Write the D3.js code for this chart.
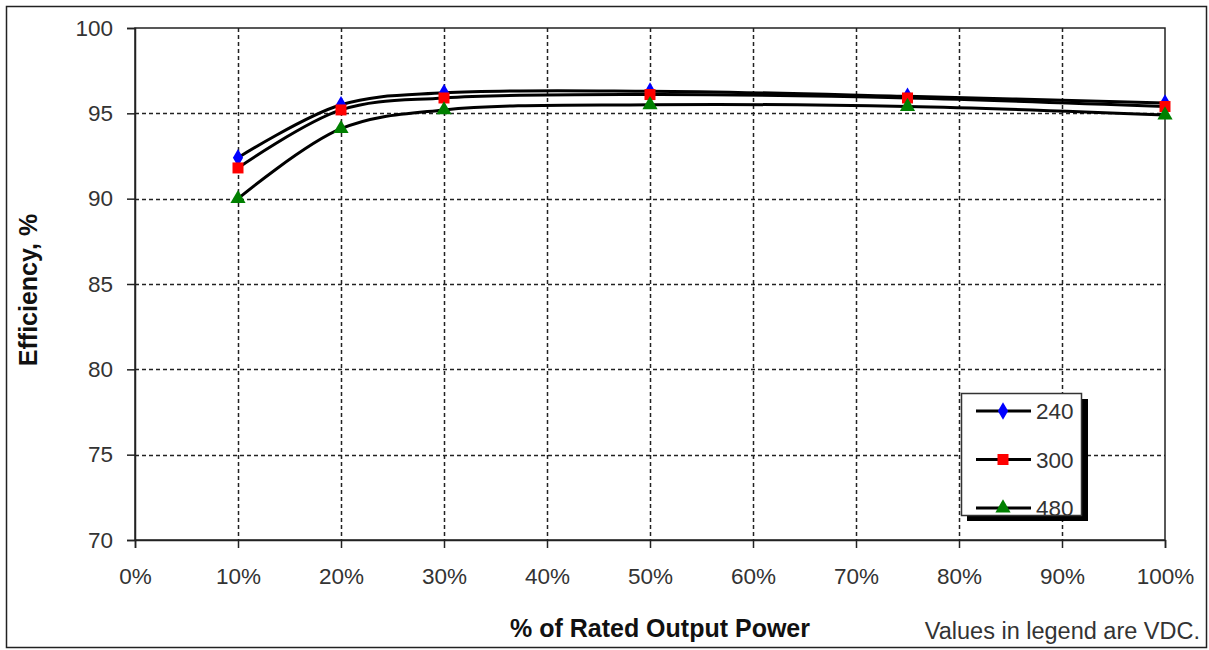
<!DOCTYPE html>
<html>
<head>
<meta charset="utf-8">
<script src="https://cdn.jsdelivr.net/npm/d3@7"></script>
<style>
  html, body { margin: 0; padding: 0; background: #fff; }
  svg { display: block; }
  text { font-family: "Liberation Sans", Arial, sans-serif; }
</style>
</head>
<body>
<svg id="chart" width="1209" height="650"></svg>
<script>
// ---- data ----
const loadPct = [10, 20, 30, 50, 75, 100];
const seriesNames = ["240", "300", "480"];
const eff240 = [92.4, 95.5, 96.2, 96.3, 96.0, 95.6];
const eff300 = [91.8, 95.2, 95.9, 96.1, 95.9, 95.4];
const eff480 = [90.0, 94.1, 95.2, 95.5, 95.4, 94.9];
const xTicks = [0, 10, 20, 30, 40, 50, 60, 70, 80, 90, 100];
const yTicks = [70, 75, 80, 85, 90, 95, 100];
const xTitle = "% of Rated Output Power";
const yTitle = "Efficiency, %";
const note = "Values in legend are VDC.";

const seriesValues = [eff240, eff300, eff480];
const seriesColors = ["#0000ff", "#ff0000", "#008000"];
const seriesSymbols = [d3.symbolDiamond, d3.symbolSquare, d3.symbolTriangle];
const seriesSizes = [90, 121, 100];

const svg = d3.select("#chart");
const pLeft = 135, pRight = 1165, pTop = 28, pBottom = 540;

const x = d3.scaleLinear().domain([0, 100]).range([pLeft, pRight]);
const y = d3.scaleLinear().domain([70, 100]).range([pBottom, pTop]);

// outer border
svg.append("rect").attr("x", 6.5).attr("y", 6.5).attr("width", 1200).attr("height", 641)
  .attr("fill", "#fff").attr("stroke", "#222").attr("stroke-width", 1.5);

// gridlines
const grid = svg.append("g").attr("stroke", "#222").attr("stroke-width", 1.5).attr("stroke-dasharray", "4,3");
grid.selectAll("line.v").data(xTicks.filter(d => d > 0 && d < 100)).enter().append("line")
  .attr("x1", d => Math.round(x(d)) + 0.5).attr("x2", d => Math.round(x(d)) + 0.5)
  .attr("y1", pTop).attr("y2", pBottom);
grid.selectAll("line.h").data(yTicks.filter(d => d > 70 && d < 100)).enter().append("line")
  .attr("x1", pLeft).attr("x2", pRight)
  .attr("y1", d => Math.round(y(d)) + 0.5).attr("y2", d => Math.round(y(d)) + 0.5);

// plot border
svg.append("rect").attr("x", pLeft).attr("y", pTop).attr("width", pRight - pLeft).attr("height", pBottom - pTop)
  .attr("fill", "none").attr("stroke", "#222").attr("stroke-width", 1.5);

// axes
const xAxis = d3.axisBottom(x).tickValues(xTicks).tickSize(8).tickPadding(20).tickFormat(d => d + "%");
const yAxis = d3.axisLeft(y).tickValues(yTicks).tickSize(8).tickPadding(14).tickFormat(d3.format("d"));
const gx = svg.append("g").attr("transform", `translate(0,${pBottom})`).call(xAxis);
const gy = svg.append("g").attr("transform", `translate(${pLeft},0)`).call(yAxis);
[gx, gy].forEach(g => {
  g.select(".domain").attr("stroke", "#222").attr("stroke-width", 1.5);
  g.selectAll(".tick line").attr("stroke", "#222").attr("stroke-width", 1.5);
  g.selectAll(".tick text").attr("font-size", 22.5).attr("fill", "#333")
    .attr("font-family", "Liberation Sans, Arial, sans-serif");
});

// lines
const line = d3.line().x((d, i) => x(loadPct[i])).y(d => y(d)).curve(d3.curveCatmullRom.alpha(0.5));
seriesValues.forEach(vals => {
  svg.append("path").attr("d", line(vals)).attr("fill", "none")
    .attr("stroke", "#000").attr("stroke-width", 3);
});
// markers
seriesValues.forEach((vals, s) => {
  svg.append("g").selectAll("path").data(vals).enter().append("path")
    .attr("d", d3.symbol().type(seriesSymbols[s]).size(seriesSizes[s]))
    .attr("transform", (d, i) => `translate(${x(loadPct[i])},${y(d)})`)
    .attr("fill", seriesColors[s]);
});

// titles
svg.append("text").attr("x", 660).attr("y", 637).attr("text-anchor", "middle")
  .attr("font-size", 25).attr("font-weight", "bold").attr("fill", "#111").text(xTitle);
svg.append("text").attr("transform", "translate(37,290) rotate(-90)").attr("text-anchor", "middle")
  .attr("font-size", 25).attr("font-weight", "bold").attr("fill", "#111").text(yTitle);
svg.append("text").attr("x", 1200).attr("y", 639).attr("text-anchor", "end")
  .attr("font-size", 23.5).attr("fill", "#333").text(note);

// legend
const lg = svg.append("g");
lg.append("rect").attr("x", 967).attr("y", 399).attr("width", 121).attr("height", 122).attr("fill", "#000");
lg.append("rect").attr("x", 961.5).attr("y", 393.5).attr("width", 120).attr("height", 122)
  .attr("fill", "#fff").attr("stroke", "#333").attr("stroke-width", 1.5);
seriesNames.forEach((name, s) => {
  const cy = 411 + s * 48.5;
  lg.append("line").attr("x1", 976).attr("x2", 1031).attr("y1", cy).attr("y2", cy)
    .attr("stroke", "#000").attr("stroke-width", 3);
  lg.append("path").attr("d", d3.symbol().type(seriesSymbols[s]).size(seriesSizes[s]))
    .attr("transform", `translate(1003,${cy})`).attr("fill", seriesColors[s]);
  lg.append("text").attr("x", 1036).attr("y", cy).attr("dy", "0.36em")
    .attr("font-size", 22.5).attr("fill", "#333").text(name);
});
</script>
</body>
</html>
